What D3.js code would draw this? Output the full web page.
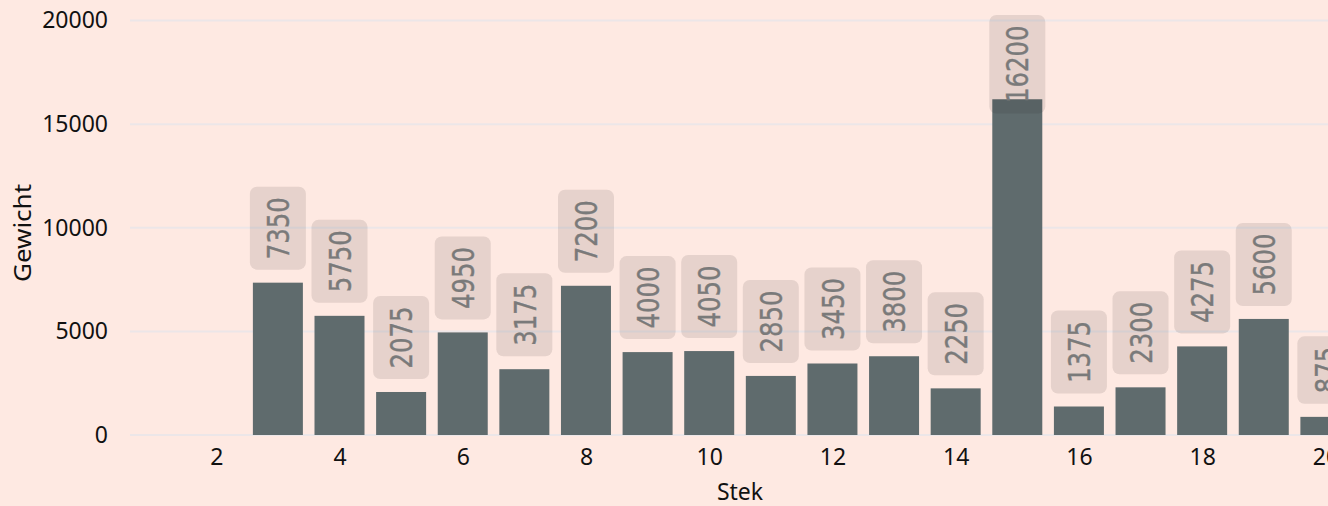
<!DOCTYPE html>
<html>
<head>
<meta charset="utf-8">
<script src="https://cdn.jsdelivr.net/npm/d3@7"></script>
<style>
  html, body { margin: 0; padding: 0; background: #fee9e2; overflow: hidden; }
  svg { display: block; }
</style>
</head>
<body>
<div id="chart"></div>
<script>
// Bar chart: Gewicht per Stek, with rotated value labels in rounded boxes

const steks = [3, 4, 5, 6, 7, 8, 9, 10, 11, 12, 13, 14, 15, 16, 17, 18, 19, 20];
const gewicht = [7350, 5750, 2075, 4950, 3175, 7200, 4000, 4050, 2850, 3450, 3800, 2250, 16200, 1375, 2300, 4275, 5600, 875];
const yTicks = [0, 5000, 10000, 15000, 20000];
const xTicks = [2, 4, 6, 8, 10, 12, 14, 16, 18, 20];

const width = 1328, height = 506;
const font = '"Noto Sans", "Open Sans", sans-serif';

const data = steks.map((s, i) => ({ stek: s, value: gewicht[i] }));

const svg = d3.select('#chart').append('svg')
  .attr('width', width)
  .attr('height', height)
  .style('background', '#fee9e2');

// plot area runs past the right edge, like the original crop
const x = d3.scaleLinear().domain([0.6, 21]).range([130, 1387]);
const y = d3.scaleLinear().domain([0, 20000]).range([435, 20.5]);

const barW = 50;

// gridlines
svg.append('g')
  .selectAll('line')
  .data(yTicks)
  .join('line')
  .attr('x1', x(0.6))
  .attr('x2', width)
  .attr('y1', d => y(d))
  .attr('y2', d => y(d))
  .attr('stroke', '#ece6e8')
  .attr('stroke-width', 2);

// y axis labels
const yAxis = d3.axisLeft(y).tickValues(yTicks).tickSize(0).tickPadding(0).tickFormat(d3.format('d'));
svg.append('g')
  .attr('transform', 'translate(108,0)')
  .call(yAxis)
  .call(g => g.select('.domain').remove())
  .selectAll('text')
  .attr('font-family', font)
  .attr('font-size', 23)
  .attr('fill', '#111');

// x axis labels
const xAxis = d3.axisBottom(x).tickValues(xTicks).tickSize(0).tickPadding(0).tickFormat(d3.format('d'));
svg.append('g')
  .attr('transform', 'translate(0,449)')
  .call(xAxis)
  .call(g => g.select('.domain').remove())
  .selectAll('text')
  .attr('font-family', font)
  .attr('font-size', 23)
  .attr('fill', '#111');

svg.selectAll('.tick text').attr('font-family', font).attr('font-size', 23);

// axis titles
svg.append('text')
  .attr('transform', 'translate(31,233) rotate(-90)')
  .attr('text-anchor', 'middle')
  .attr('font-family', font)
  .attr('font-size', 23)
  .attr('textLength', 98)
  .attr('lengthAdjust', 'spacingAndGlyphs')
  .attr('fill', '#111')
  .text('Gewicht');

svg.append('text')
  .attr('x', 740)
  .attr('y', 500)
  .attr('text-anchor', 'middle')
  .attr('font-family', font)
  .attr('font-size', 23)
  .attr('fill', '#111')
  .text('Stek');

// bars
svg.append('g')
  .selectAll('rect')
  .data(data)
  .join('rect')
  .attr('x', d => x(d.stek) - barW / 2)
  .attr('width', barW)
  .attr('y', d => y(d.value))
  .attr('height', d => y(0) - y(d.value))
  .attr('fill', '#5f6b6d');

// value labels
const charLen = 15.5;
const labels = svg.append('g')
  .selectAll('g')
  .data(data)
  .join('g')
  .attr('transform', d => {
    const len = String(d.value).length * charLen;
    const boxH = len + 21;
    let top = y(d.value) - 13 - boxH;
    if (top < 15) top = 15;
    return `translate(${x(d.stek)},${top + boxH / 2})`;
  });

labels.append('rect')
  .attr('x', -28)
  .attr('width', 56)
  .attr('y', d => -(String(d.value).length * charLen + 21) / 2)
  .attr('height', d => String(d.value).length * charLen + 21)
  .attr('rx', 7)
  .attr('fill', 'rgba(40,30,25,0.11)');

labels.append('text')
  .attr('transform', 'rotate(-90)')
  .attr('text-anchor', 'middle')
  .attr('dy', '0.36em')
  .attr('font-family', '"DejaVu Sans", sans-serif')
  .attr('font-size', 31)
  .attr('textLength', d => String(d.value).length * charLen)
  .attr('lengthAdjust', 'spacingAndGlyphs')
  .attr('fill', '#7a7a7a')
  .attr('stroke', '#7a7a7a')
  .attr('stroke-width', 0.4)
  .text(d => d.value);
</script>
</body>
</html>
